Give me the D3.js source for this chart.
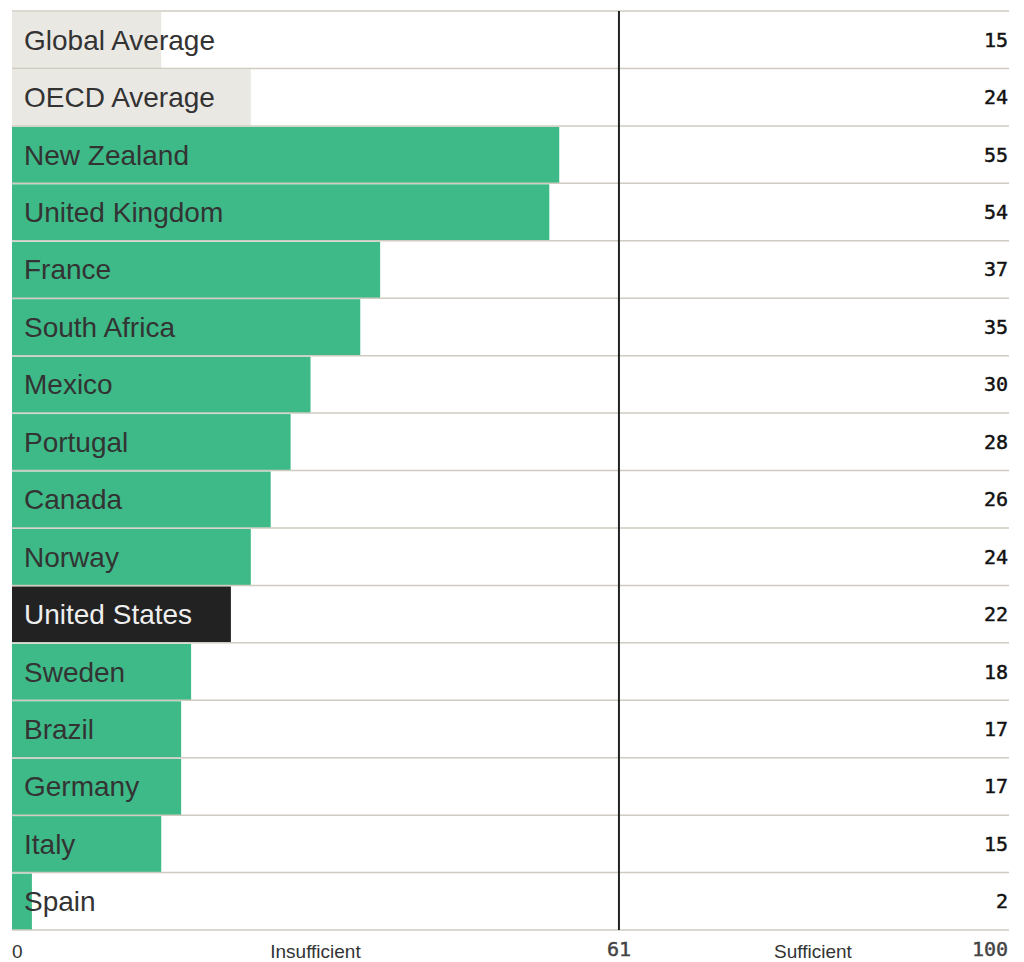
<!DOCTYPE html>
<html lang="en">
<head>
<meta charset="utf-8">
<style>
  body { margin: 0; background: #fff; }
  svg { font-family: 'Liberation Sans', Arial, sans-serif; }
  .num { font-family: 'DejaVu Sans Mono', monospace; stroke-width: 0.45px; }
</style>
</head>
<body>
<div id="chart"></div>
<script src="https://d3js.org/d3.v7.min.js"></script>
<script>
// data
var countries = ["Global Average", "OECD Average", "New Zealand", "United Kingdom", "France",
  "South Africa", "Mexico", "Portugal", "Canada", "Norway", "United States", "Sweden",
  "Brazil", "Germany", "Italy", "Spain"];
var scores = [15, 24, 55, 54, 37, 35, 30, 28, 26, 24, 22, 18, 17, 17, 15, 2];
var kinds = ["avg", "avg", "c", "c", "c", "c", "c", "c", "c", "c", "us", "c", "c", "c", "c", "c"];
var threshold = 61;
var axisTicks = [0, 61, 100];

var W = 1024, H = 962;
var m = { left: 12, right: 1007, top: 11, bottom: 930 };

var svg = d3.select("#chart").append("svg")
  .attr("width", W).attr("height", H);

var x = d3.scaleLinear().domain([0, 100]).range([m.left, m.right]);
var y = d3.scaleBand().domain(countries).range([m.top, m.bottom]);

var fill = { avg: "#eae8e3", c: "#3dba87", us: "#222222" };
var txt = { avg: "#333", c: "#333", us: "#eeeeee" };

var rows = svg.selectAll("g.row").data(countries).enter().append("g").attr("class", "row");

rows.append("rect")
  .attr("x", x(0))
  .attr("y", function(d) { return y(d) + 1; })
  .attr("width", function(d, i) { return x(scores[i]) - x(0); })
  .attr("height", y.bandwidth() - 1)
  .attr("fill", function(d, i) { return fill[kinds[i]]; });

// separators
svg.selectAll("line.sep").data(d3.range(countries.length + 1)).enter().append("line")
  .attr("x1", m.left).attr("x2", m.right + 2)
  .attr("y1", function(i) { return m.top + i * y.step(); })
  .attr("y2", function(i) { return m.top + i * y.step(); })
  .attr("stroke", "#cfcbc0").attr("stroke-width", 1.5);

rows.append("text")
  .attr("x", 24)
  .attr("y", function(d) { return y(d) + y.bandwidth() / 2 + 10; })
  .attr("font-size", 28)
  .attr("fill", function(d, i) { return txt[kinds[i]]; })
  .text(function(d) { return d; });

rows.append("text")
  .attr("class", "num")
  .attr("x", m.right + 1)
  .attr("y", function(d) { return y(d) + y.bandwidth() / 2 + 7; })
  .attr("text-anchor", "end")
  .attr("font-size", 20)
  .attr("fill", "#111").attr("stroke", "#111")
  .text(function(d, i) { return scores[i]; });

// threshold line
svg.append("line")
  .attr("x1", x(threshold)).attr("x2", x(threshold))
  .attr("y1", m.top).attr("y2", m.bottom)
  .attr("stroke", "#222").attr("stroke-width", 2);

// bottom labels
svg.append("text").attr("x", x(0)).attr("y", 958)
  .attr("font-size", 19).attr("fill", "#333").text(axisTicks[0]);
svg.append("text").attr("class", "num").attr("x", x(axisTicks[1])).attr("y", 956)
  .attr("text-anchor", "middle").attr("font-size", 20).attr("fill", "#444").attr("stroke", "#444")
  .text(axisTicks[1]);
svg.append("text").attr("class", "num").attr("x", m.right + 1).attr("y", 956)
  .attr("text-anchor", "end").attr("font-size", 20).attr("fill", "#444").attr("stroke", "#444")
  .text(axisTicks[2]);
svg.append("text").attr("x", (x(0) + x(threshold)) / 2).attr("y", 958)
  .attr("text-anchor", "middle").attr("font-size", 19).attr("fill", "#333").text("Insufficient");
svg.append("text").attr("x", (x(threshold) + x(100)) / 2).attr("y", 958)
  .attr("text-anchor", "middle").attr("font-size", 19).attr("fill", "#333").text("Sufficient");
</script>
</body>
</html>
